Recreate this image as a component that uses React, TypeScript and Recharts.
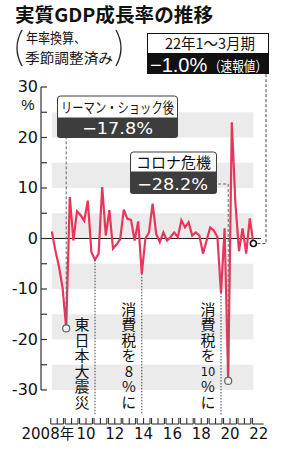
import React from 'react';
import { LineChart, Line, XAxis, YAxis, ReferenceArea, ReferenceLine, ReferenceDot } from 'recharts';

// ---------- data ----------
const years = [2008, 2009, 2010, 2011, 2012, 2013, 2014, 2015, 2016, 2017, 2018, 2019, 2020, 2021, 2022];
const quarterNames = ['Q1', 'Q2', 'Q3', 'Q4'];
// real GDP growth, annualized, seasonally adjusted (%), 2008Q1 .. 2022Q1
const growth = [
  1.4, -2.4, -5.6, -9.8,
  -17.8, 8.2, -0.4, 5.4,
  4.6, 3.5, 7.5, -2.7,
  -4.2, -3.0, 10.2, 0.6,
  5.6, -2.0, -1.2, -0.1,
  5.7, 3.9, 3.7, -0.4,
  3.4, -7.0, 0.0, 1.2,
  6.9, 0.9, -0.7, 1.2,
  -0.4, 0.3, 1.2, 0.3,
  3.6, 2.2, 3.2, 0.6,
  1.2, 0.6, -3.0, -0.4,
  2.2, 1.6, 0.3, -10.8,
  2.0, -28.2, 23.0, 7.0,
  -2.5, 2.0, -3.0, 4.0,
  -1.0,
];
const yTicks = [-30, -25, -20, -15, -10, -5, 0, 5, 10, 15, 20, 25, 30];
const yLabels = [-30, -20, -10, 0, 10, 20, 30];
const bands = [[20, 25], [10, 15], [0, 5], [-10, -5], [-20, -15], [-30, -25]];
const xLabelYears = [2008, 2010, 2012, 2014, 2016, 2018, 2020, 2022];
const events = [
  { q: '2011Q1', label: '東日本大震災' },
  { q: '2014Q2', label: '消費税を8%に' },
  { q: '2019Q4', label: '消費税を10%に' },
];
const titleText = '実質GDP成長率の推移';
const subtitleLines = ['年率換算、', '季節調整済み'];
const lehman = { q: '2009Q1', title: 'リーマン・ショック後', value: '−17.8%' };
const corona = { q: '2020Q2', title: 'コロナ危機', value: '−28.2%' };
const latest = { q: '2022Q1', title: '22年1～3月期', value: '−1.0%', note: '（速報値）' };

const quarters: string[] = [];
years.forEach((y) => quarterNames.forEach((q) => quarters.push(`${y}${q}`)));
const data = growth.map((v, i) => ({ q: quarters[i], v }));
const valueOf = (q: string) => data.find((d) => d.q === q)!.v;

// ---------- styling constants ----------
const W = 282;
const H = 450;
const AXIS_X = 41;
const QW = 3.6;
const JP = '"Noto Sans CJK JP", "Noto Sans", sans-serif';
const NUM = '"DejaVu Sans", "Liberation Sans", sans-serif';
const LIB = '"Liberation Sans", sans-serif';
const LINE_COLOR = '#e8365b';
const BAND = '#ebebeb';
const DARK = '#3d3d3d';

const YTick = (props: any) => {
  const { y, payload } = props;
  const v = payload.value as number;
  return (
    <g>
      <line x1={AXIS_X} x2={AXIS_X + 6} y1={y} y2={y} stroke="#333" strokeWidth={1.2} />
      {yLabels.includes(v) && (
        <text x={38} y={y + 5} textAnchor="end" fontSize={16} fontFamily={NUM} fill="#111">
          {String(v)}
        </text>
      )}
      {v === 30 && (
        <text x={28} y={y + 22.5} textAnchor="middle" fontSize={15} fontFamily={LIB} fill="#111">%</text>
      )}
    </g>
  );
};

const XTick = (props: any) => {
  const { x, payload } = props;
  const label = String(payload.value);
  const yr = parseInt(label.slice(0, 4), 10);
  if (label.slice(4) !== 'Q1') return <g />;
  const left = x - QW / 2;
  const yearW = QW * 4;
  const top = 418;
  const base = 424;
  const mid = left + yearW / 2;
  const isLast = yr === years[years.length - 1];
  const d = isLast
    ? `M${left + 0.8},${top} V${base} H${left + 12}`
    : `M${left + 0.8},${top} V${base} H${left + yearW - 0.8} V${top} M${mid},${top} V${base}`;
  let text: React.ReactNode = null;
  if (xLabelYears.includes(yr)) {
    if (yr === years[0]) {
      text = (
        <text x={mid + 17} y={439} textAnchor="end" fontSize={15} fontFamily={NUM} fill="#111">
          {`${yr}`}
          <tspan fontFamily={JP} fontSize={14.5}>年</tspan>
        </text>
      );
    } else {
      text = (
        <text x={mid} y={439} textAnchor="middle" fontSize={15} fontFamily={NUM} fill="#111">
          {String(yr).slice(2)}
        </text>
      );
    }
  }
  return (
    <g>
      <path d={d} fill="none" stroke="#222" strokeWidth={1} />
      {text}
    </g>
  );
};

// split a label into vertical runs and horizontal (tate-chu-yoko) number cells
const splitRuns = (s: string) => {
  const cells = s.match(/\d{2,}|./g) || [];
  const runs: { kind: 'v' | 'h'; text: string; start: number }[] = [];
  cells.forEach((c, k) => {
    if (c.length > 1) runs.push({ kind: 'h', text: c, start: k });
    else {
      const last = runs[runs.length - 1];
      if (last && last.kind === 'v') last.text += c;
      else runs.push({ kind: 'v', text: c, start: k });
    }
  });
  return { runs, n: cells.length };
};

const EventShape = (props: any) => {
  const { cx, cy, label } = props;
  const { runs, n } = splitRuns(label);
  const pitch = 15.5;
  const bottom = 410;
  const tx = cx - 13;
  return (
    <g>
      <line x1={cx} x2={cx} y1={cy} y2={415} stroke="#444" strokeWidth={1} strokeDasharray="1.5 1.5" />
      {runs.map((r, k) => {
        const top = bottom - (n - r.start) * pitch;
        if (r.kind === 'h') {
          return (
            <text key={k} x={tx} y={top + 12.5} textAnchor="middle" fontSize={11.5} fontFamily={NUM} fill="#111">
              {r.text}
            </text>
          );
        }
        return (
          <text
            key={k}
            x={tx}
            y={top}
            fontSize={15}
            fontFamily={JP}
            fill="#111"
            letterSpacing={0.5}
            style={{ writingMode: 'vertical-rl', textOrientation: 'upright' } as any}
          >
            {r.text}
          </text>
        );
      })}
    </g>
  );
};

const LehmanShape = (props: any) => {
  const { cx, cy } = props;
  return (
    <g>
      <line x1={cx} x2={cx} y1={cy - 4} y2={138} stroke="#666" strokeWidth={1} strokeDasharray="3 2" />
      <circle cx={cx} cy={cy} r={3.5} fill="#f2f2f2" stroke="#666" strokeWidth={1.2} />
    </g>
  );
};

const CoronaShape = (props: any) => {
  const { cx, cy } = props;
  return (
    <g>
      <path d={`M${cx},${cy - 4} V184 H217`} fill="none" stroke="#666" strokeWidth={1} strokeDasharray="3 2" />
      <circle cx={cx} cy={cy} r={3.5} fill="#f2f2f2" stroke="#666" strokeWidth={1.2} />
    </g>
  );
};

const LatestShape = (props: any) => {
  const { cx, cy } = props;
  return (
    <g>
      <path d={`M${cx + 4},${cy} H266 V74`} fill="none" stroke="#444" strokeWidth={1} strokeDasharray="3 2" />
      <circle cx={cx} cy={cy} r={3} fill="#fff" stroke="#111" strokeWidth={1.6} />
    </g>
  );
};

const Overlay = () => (
  <svg width={W} height={H} style={{ position: 'absolute', left: 0, top: 0, pointerEvents: 'none' }}>
    {/* title */}
    <text x={15} y={22} fontSize={19} fontWeight="bold" fontFamily={JP} fill="#111" textLength={198} lengthAdjust="spacingAndGlyphs">
      {titleText}
    </text>
    {/* subtitle */}
    <path d="M22,30 Q12,48 22,66" fill="none" stroke="#222" strokeWidth={1.3} />
    <path d="M116,30 Q126,48 116,66" fill="none" stroke="#222" strokeWidth={1.3} />
    <text x={26} y={42.5} fontSize={13.5} fontFamily={JP} fill="#111" textLength={60} lengthAdjust="spacingAndGlyphs">{subtitleLines[0]}</text>
    <text x={25} y={62.5} fontSize={13.5} fontFamily={JP} fill="#111" textLength={88} lengthAdjust="spacingAndGlyphs">{subtitleLines[1]}</text>

    {/* latest box */}
    <rect x={147.5} y={33.5} width={121} height={20} fill="#fff" stroke="#111" strokeWidth={1} />
    <rect x={147} y={53} width={122} height={21} fill="#111" />
    <text x={210} y={48.5} textAnchor="middle" fontSize={14.5} fontFamily={JP} fill="#111">{latest.title}</text>
    <text x={150} y={71.5} fontSize={20} fontFamily={LIB} fill="#fff">{latest.value}</text>
    <text x={209} y={70.5} fontSize={14} fontFamily={JP} fill="#fff" textLength={58} lengthAdjust="spacingAndGlyphs">{latest.note}</text>

    {/* lehman box */}
    <path d="M57.5,118 V99 a3,3 0 0 1 3,-3 H174.5 a3,3 0 0 1 3,3 V118 Z" fill="#fff" stroke={DARK} strokeWidth={1} />
    <path d="M57,118 H178 V135 a3,3 0 0 1 -3,3 H60 a3,3 0 0 1 -3,-3 Z" fill={DARK} />
    <text x={61} y={113} fontSize={14.5} fontFamily={JP} fill="#111" textLength={113} lengthAdjust="spacingAndGlyphs">{lehman.title}</text>
    <text x={82} y={134} fontSize={16} fontFamily={NUM} fill="#fff" textLength={71} lengthAdjust="spacingAndGlyphs">{lehman.value}</text>

    {/* corona box */}
    <path d="M130.5,172 V155 a3,3 0 0 1 3,-3 H213.5 a3,3 0 0 1 3,3 V172 Z" fill="#fff" stroke={DARK} strokeWidth={1} />
    <path d="M130,172 H217 V191 a3,3 0 0 1 -3,3 H133 a3,3 0 0 1 -3,-3 Z" fill={DARK} />
    <text x={136} y={168} fontSize={15} fontFamily={JP} fill="#111" textLength={75} lengthAdjust="spacingAndGlyphs">{corona.title}</text>
    <text x={137} y={190} fontSize={16} fontFamily={NUM} fill="#fff" textLength={71} lengthAdjust="spacingAndGlyphs">{corona.value}</text>
  </svg>
);

export default function App() {
  return (
    <div style={{ position: 'absolute', left: 0, top: 0, width: W, height: H, background: '#fff' }}>
      <LineChart width={W} height={H} data={data} margin={{ top: 87, right: 21, bottom: 0, left: 0 }}>
        {bands.map(([a, b]) => (
          <ReferenceArea key={`${a}`} y1={a} y2={b} fill={BAND} fillOpacity={1} stroke="none" ifOverflow="visible" />
        ))}
        <XAxis
          dataKey="q"
          type="category"
          interval={0}
          height={60}
          axisLine={false}
          tickLine={false}
          tick={<XTick />}
          padding={{ left: 10.8, right: 7.6 }}
        />
        <YAxis
          type="number"
          domain={[-30, 30]}
          ticks={yTicks}
          width={41}
          axisLine={{ stroke: '#333', strokeWidth: 1.2 }}
          tickLine={false}
          tick={<YTick />}
          interval={0}
        />
        <ReferenceLine y={0} stroke="#222" strokeWidth={1} />
        {events.map((e) => (
          <ReferenceDot
            key={e.q}
            x={e.q}
            y={valueOf(e.q)}
            r={0}
            ifOverflow="visible"
            shape={(p: any) => <EventShape {...p} label={e.label} />}
          />
        ))}
        <Line type="linear" dataKey="v" stroke={LINE_COLOR} strokeWidth={2.2} dot={false} isAnimationActive={false} />
        <ReferenceDot x={lehman.q} y={valueOf(lehman.q)} r={3.5} ifOverflow="visible" shape={(p: any) => <LehmanShape {...p} />} />
        <ReferenceDot x={corona.q} y={valueOf(corona.q)} r={3.5} ifOverflow="visible" shape={(p: any) => <CoronaShape {...p} />} />
        <ReferenceDot x={latest.q} y={valueOf(latest.q)} r={3} ifOverflow="visible" shape={(p: any) => <LatestShape {...p} />} />
      </LineChart>
      <Overlay />
    </div>
  );
}
